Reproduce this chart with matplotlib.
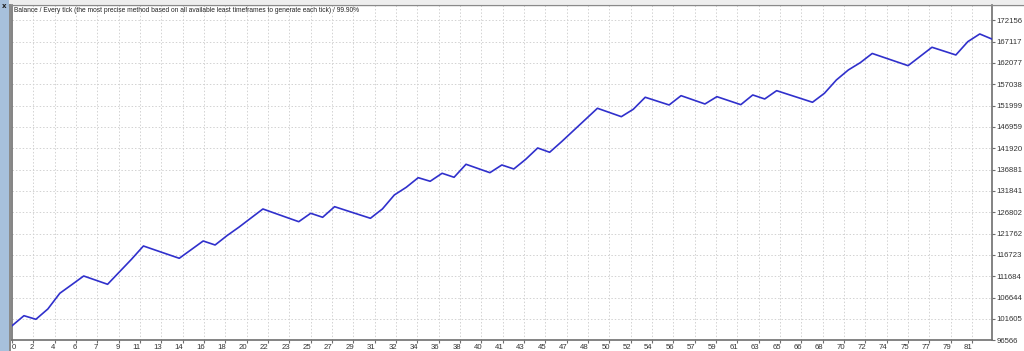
import numpy as np
import matplotlib
matplotlib.use("Agg")
import matplotlib.pyplot as plt
from matplotlib.patches import Rectangle
from matplotlib.transforms import ScaledTranslation

# ---- data ----
balance = [100000, 102378, 101527, 103961, 107670, 109700, 111757, 110780, 109796, 112750,
           115702, 118844, 117870, 116900, 115939, 117980, 120026, 119081, 121300, 123300,
           125450, 127586, 126580, 125580, 124585, 126570, 125625, 128129, 127210, 126300,
           125389, 127586, 130893, 132712, 134980, 134130, 136020, 135075, 138146, 137150,
           136162, 137980, 137036, 139327, 141997, 140981, 143485, 146115, 148745, 151376,
           150384, 149392, 151140, 153975, 153065, 152156, 154353, 153370, 152392, 154117,
           153170, 152227, 154518, 153573, 155534, 154620, 153710, 152794, 154920, 158062,
           160424, 162149, 164323, 163360, 162400, 161440, 163610, 165787, 164880, 163968,
           167110, 168929, 167748]
y_ticks = [96566, 101605, 106644, 111684, 116723, 121762, 126802, 131841, 136881,
           141920, 146959, 151999, 157038, 162077, 167117, 172156]
x_tick_labels = ["0", "2", "4", "6", "7", "9", "11", "13", "14", "16", "18", "20", "22", "23",
                 "25", "27", "29", "31", "32", "34", "36", "38", "40", "41", "43", "45", "47",
                 "48", "50", "52", "54", "56", "57", "59", "61", "63", "65", "66", "68", "70",
                 "72", "74", "75", "77", "79", "81"]
title = ("Balance / Every tick (the most precise method based on all available least "
         "timeframes to generate each tick) / 99.90%")

# ---- layout ----
W, H = 1024, 351
fig = plt.figure(figsize=(W / 100, H / 100), dpi=100)
fig.patch.set_facecolor("white")

px_left, px_right, px_top, px_bottom = 12.0, 991.7, 4.5, 340.3
ax = fig.add_axes([px_left / W, (H - px_bottom) / H,
                   (px_right - px_left) / W, (px_bottom - px_top) / H])

x = np.arange(len(balance))
xmax = len(balance) - 1
ax.set_xlim(0, xmax)
ymin = y_ticks[0]
ystep = (y_ticks[-1] - y_ticks[0]) / (len(y_ticks) - 1)
grid_px = (px_bottom - 20.3) / 15
ytop = ymin + ystep * (px_bottom - px_top) / grid_px
ax.set_ylim(ymin, ytop)

# grid spacing in x equals grid spacing in y (square cells, pixels)
step_x = xmax * grid_px / (px_right - px_left)
x_ticks = [k * step_x for k in range(len(x_tick_labels))]

grid_kw = dict(color="#d2d2d2", lw=0.7, ls=(0, (1.5, 2.0)), zorder=1)
for xt in x_ticks[1:]:
    ax.axvline(xt, **grid_kw)
for yt in y_ticks[1:]:
    ax.axhline(yt, **grid_kw)

ax.plot(x, balance, color="#3030cc", lw=1.2, zorder=3, solid_joinstyle="round")

# axes styling
ax.spines["top"].set_visible(False)
for s in ["left", "bottom", "right"]:
    ax.spines[s].set_color("#6e6e6e")
    ax.spines[s].set_linewidth(1.2)

ax.yaxis.tick_right()
ax.set_yticks(y_ticks)
ax.set_yticklabels([str(v) for v in y_ticks], fontsize=5.6, color="#333333",
                   family="Liberation Sans")
ax.tick_params(axis="y", length=2.5, width=0.8, color="#6e6e6e", pad=1.0)

ax.set_xticks(x_ticks)
ax.set_xticklabels(x_tick_labels, fontsize=5.6, color="#333333", family="Liberation Sans")
ax.tick_params(axis="x", length=2, width=0.8, color="#6e6e6e", pad=1.0)
for i, lab in enumerate(ax.get_xticklabels()):
    if i == 0:
        lab.set_horizontalalignment("left")
    else:
        lab.set_horizontalalignment("right")
        lab.set_transform(lab.get_transform() + ScaledTranslation(0.6 / 72, 0, fig.dpi_scale_trans))

ax.text(2.0 / (px_right - px_left), 1 - 5.5 / (px_bottom - px_top), title,
        transform=ax.transAxes, fontsize=4.75, color="#222222", family="Liberation Sans",
        ha="left", va="center")

# window frame decorations
fig.patches.append(Rectangle((0, 0), 9 / W, 1, transform=fig.transFigure,
                             facecolor="#a7c0dc", edgecolor="none", zorder=0))
fig.patches.append(Rectangle((9 / W, 0), 1.5 / W, (H - 4) / H, transform=fig.transFigure,
                             facecolor="#8a8a8a", edgecolor="none", zorder=0))
fig.patches.append(Rectangle((9 / W, (H - 4) / H), 1 - 9 / W, 4 / H, transform=fig.transFigure,
                             facecolor="#eeeeee", edgecolor="none", zorder=0))
fig.add_artist(plt.Line2D([9 / W, 1], [(H - 4.5) / H, (H - 4.5) / H],
                          transform=fig.transFigure, color="#8a8a8a", lw=1.0))
fig.text(4.5 / W, 1 - 6 / H, "x", fontsize=5, color="#222222", ha="center", va="center",
         family="DejaVu Sans", weight="bold")

fig.savefig("out.png", dpi=100)
